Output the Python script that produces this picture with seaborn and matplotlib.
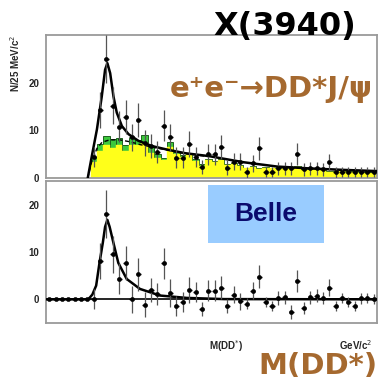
import matplotlib
matplotlib.use("Agg")
import matplotlib.pyplot as plt
import seaborn as sns
import pandas as pd
from matplotlib.ticker import MultipleLocator
from matplotlib.patches import Rectangle

sns.set_style("white")
plt.rcParams['font.family'] = ['Liberation Sans', 'DejaVu Sans']

# ---------------- data ----------------
bin_lo = 3.70
bin_w = 0.025
n_bins = 52
first_top_bin = 7

# top panel: data (bins 7..51)
top_counts = [4.4, 14.2, 25.0, 15.2, 10.8, 12.8, 8.5, 12.2, 7.4, 6.7,
              5.5, 11.0, 8.5, 4.3, 4.3, 7.1, 4.5, 2.3, 5.0, 5.0,
              6.5, 2.2, 3.4, 3.4, 1.2, 3.1, 6.2, 1.3, 1.3, 2.0,
              2.0, 2.0, 5.1, 1.8, 2.0, 2.0, 1.8, 3.3, 1.2, 1.3,
              1.3, 1.3, 1.3, 1.3, 1.3]
top_err = [2.1, 3.8, 5.0, 3.9, 3.3, 3.6, 2.9, 3.5, 2.7, 2.6,
           2.3, 3.3, 2.9, 2.1, 2.1, 2.7, 2.1, 1.5, 2.2, 2.2,
           2.5, 1.5, 1.8, 1.8, 1.1, 1.8, 2.5, 1.1, 1.1, 1.4,
           1.4, 1.4, 2.3, 1.3, 1.4, 1.4, 1.3, 1.8, 1.1, 1.1,
           1.1, 1.1, 1.1, 1.1, 1.1]
# background histograms (bins 7..51)
green_bkg = [4.5, 7.2, 8.8, 8.1, 8.3, 7.0, 8.3, 8.0, 9.0, 6.5,
             5.0, 4.3, 7.6, 5.5, 4.8, 5.3, 4.0, 3.0, 4.0, 3.6,
             4.0, 3.0, 3.2, 2.8, 2.2, 2.5, 2.0, 2.4, 2.2, 2.0,
             2.3, 2.0, 2.5, 1.8, 1.8, 2.0, 2.0, 1.5, 1.5, 1.6,
             1.4, 1.4, 1.3, 1.3, 1.3]
yellow_bkg = [3.3, 5.7, 7.0, 6.3, 6.9, 5.7, 7.0, 6.9, 7.3, 5.3,
              4.2, 3.8, 6.6, 5.0, 4.4, 5.0, 3.5, 2.6, 3.7, 3.3,
              3.7, 2.8, 3.0, 2.6, 2.0, 2.3, 1.8, 2.2, 2.0, 1.8,
              2.1, 1.8, 2.3, 1.6, 1.6, 1.8, 1.8, 1.3, 1.3, 1.4,
              1.2, 1.2, 1.1, 1.1, 1.1]

# bottom panel: background-subtracted data (bins 0..51)
bot_counts = [0, 0, 0, 0, 0, 0, 0,
              0.1, 8.0, 18.0, 9.5, 4.4, 7.6, 0.0, 5.3, -1.1, 2.0,
              1.1, 7.6, 1.3, -1.4, -0.6, 2.0, 1.6, -2.0, 1.8, 1.8,
              2.5, -1.4, 1.0, -0.4, -0.9, 1.8, 4.8, -0.6, -1.4, 0.3,
              0.4, -2.7, 3.8, -1.8, 0.4, 0.8, 0.3, 2.5, -1.4, 0.3,
              -0.6, -1.4, 0.2, 0.3, 0.1]
bot_err = [0, 0, 0, 0, 0, 0, 0] + top_err

# fit curves
fit_m = [3.864, 3.880, 3.900, 3.919, 3.932, 3.941, 3.952, 3.965, 3.978,
         3.998, 4.024, 4.063, 4.116, 4.181, 4.247, 4.339, 4.477, 4.608,
         4.739, 4.869, 5.000]
fit_total = [0.0, 4.6, 10.2, 17.1, 22.7, 24.1, 22.0, 17.1, 13.7,
             10.9, 9.2, 7.8, 6.7, 5.9, 5.2, 4.6, 3.3, 2.4,
             2.0, 1.7, 1.45]
bkg_m = [3.864, 3.880, 3.900, 3.920, 3.950, 3.990, 4.030, 4.070, 4.116,
         4.181, 4.247, 4.339]
bkg_v = [0.0, 3.5, 6.2, 7.5, 8.0, 8.0, 7.6, 7.0, 6.5, 5.8, 5.1, 4.5]
sig_m = [3.700, 3.866, 3.882, 3.897, 3.910, 3.923, 3.932, 3.941, 3.950,
         3.965, 3.984, 4.017, 4.069, 4.148, 4.253, 4.400, 5.000]
sig_v = [0.0, 0.0, 1.0, 2.9, 7.7, 11.9, 15.3, 16.8, 15.3,
         11.9, 7.7, 4.3, 2.2, 0.8, 0.3, 0.05, 0.0]

xticks = [3.8, 3.9, 4.0, 4.1, 4.2, 4.3, 4.4, 4.5, 4.6, 4.7, 4.8, 4.9]

# ---------------- derived tables ----------------
edges = [round(bin_lo + bin_w * i, 4) for i in range(n_bins + 1)]
centers = [round(bin_lo + bin_w * (i + 0.5), 4) for i in range(n_bins)]
top_df = pd.DataFrame({"m": centers[first_top_bin:], "n": top_counts,
                       "err": top_err, "green": green_bkg, "yellow": yellow_bkg})
bot_df = pd.DataFrame({"m": centers, "n": bot_counts, "err": bot_err})

# ---------------- figure ----------------
W, H = 382, 383
fig = plt.figure(figsize=(W / 100, H / 100), dpi=100)
ax1 = fig.add_axes([46 / W, 1 - 178 / H, 331 / W, 143 / H])
ax2 = fig.add_axes([46 / W, 1 - 323 / H, 331 / W, 142 / H])

frame_c = "#9a9a9a"
brown = "#A5692F"

# top panel
sns.histplot(data=top_df, x="m", weights="green", bins=edges, element="bars",
             fill=True, color="#3CC83C", edgecolor="#1d5f1d", linewidth=0.7,
             alpha=1, ax=ax1, zorder=1)
sns.histplot(data=top_df, x="m", weights="yellow", bins=edges, element="bars",
             fill=True, color="#FFFF1A", edgecolor="#FFFF1A", linewidth=0.3,
             alpha=1, ax=ax1, zorder=2)
sns.lineplot(x=bkg_m, y=bkg_v, color="black", linestyle=(0, (3, 2)),
             linewidth=1.0, ax=ax1, zorder=3)
sns.lineplot(x=fit_m, y=fit_total, color="black", linewidth=1.8, ax=ax1, zorder=4)
ax1.errorbar(top_df["m"], top_df["n"], yerr=top_df["err"], fmt="none",
             ecolor="#555555", elinewidth=0.9, zorder=5)
ax1.errorbar(top_df["m"], top_df["n"], xerr=bin_w * 0.4, fmt="none",
             ecolor="black", elinewidth=1.0, zorder=5)
sns.scatterplot(data=top_df, x="m", y="n", marker="o", s=10, color="black",
                edgecolor="black", ax=ax1, zorder=6)

# bottom panel
ax2.axhline(0, color="black", linewidth=1.2, zorder=2)
sns.lineplot(x=sig_m, y=sig_v, color="black", linewidth=1.8, ax=ax2, zorder=3)
nz = bot_df[bot_df["err"] > 0]
ax2.errorbar(nz["m"], nz["n"], yerr=nz["err"], fmt="none",
             ecolor="#555555", elinewidth=0.9, zorder=4)
ax2.errorbar(bot_df["m"], bot_df["n"], xerr=bin_w * 0.4, fmt="none",
             ecolor="black", elinewidth=1.0, zorder=4)
sns.scatterplot(data=bot_df, x="m", y="n", marker="o", s=10, color="black",
                edgecolor="black", ax=ax2, zorder=6)

for ax, (lo, hi) in ((ax1, (0, 30)), (ax2, (-5, 25))):
    ax.set_xlim(3.70, 5.00)
    ax.set_ylim(lo, hi)
    ax.set_xticks(xticks)
    ax.set_xticklabels([])
    ax.set_yticks([0, 10, 20])
    ax.yaxis.set_minor_locator(MultipleLocator(2))
    ax.tick_params(axis="both", which="major", direction="in", length=6,
                   width=1.0, color=frame_c, labelsize=7, pad=5)
    ax.tick_params(axis="y", which="minor", direction="in", length=3,
                   width=0.8, color=frame_c)
    ax.tick_params(top=False, right=False)
    for lab in ax.get_yticklabels():
        lab.set_fontweight("bold")
    for s in ax.spines.values():
        s.set_color(frame_c)
        s.set_linewidth(1.3)
        s.set_visible(True)
    ax.set_xlabel("")
    ax.set_ylabel("")

# texts
fig.text(15 / W, 1 - 63 / H, "N/25 MeV/c$^{2}$", rotation=90, ha="center",
         va="center", fontsize=7, fontweight="bold")
fig.text(226 / W, 1 - 346 / H, "M(DD$^{*}$)", ha="center", va="center",
         fontsize=7, fontweight="bold")
fig.text(356 / W, 1 - 345 / H, "GeV/c$^{2}$", ha="center", va="center",
         fontsize=7, fontweight="bold")

fig.text(285 / W, 1 - 27 / H, "X(3940)", ha="center", va="center",
         fontsize=23, fontweight="bold", family=["DejaVu Sans"], color="black")
fig.text(271 / W, 1 - 89 / H, "e\u207ae\u207b\u2192DD*J/\u03c8", ha="center",
         va="center", fontsize=21, fontweight="bold", family=["DejaVu Sans"],
         color=brown)
fig.text(318 / W, 1 - 366 / H, "M(DD*)", ha="center", va="center",
         fontsize=21, fontweight="bold", family=["DejaVu Sans"], color=brown)

fig.patches.append(Rectangle((208 / W, 1 - 243 / H), 116 / W, 58 / H,
                             transform=fig.transFigure, facecolor="#99CCFF",
                             edgecolor="none", zorder=5))
fig.text(266 / W, 1 - 214 / H, "Belle", ha="center", va="center",
         fontsize=19, fontweight="bold", color="#0B0B6E", zorder=6)

fig.savefig("out.png", dpi=100)
